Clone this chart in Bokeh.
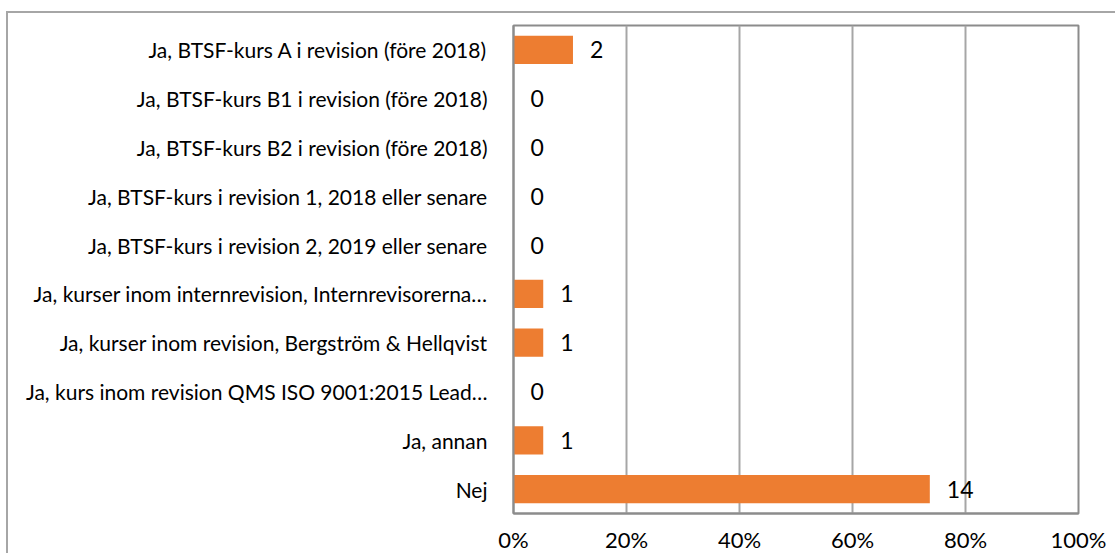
from bokeh.plotting import figure
from bokeh.models import ColumnDataSource, FactorRange, FixedTicker, CustomJSTickFormatter
from bokeh.core.properties import value
from bokeh.embed import file_html
from bokeh.resources import INLINE

categories = [
    "Ja, BTSF-kurs A i revision (före 2018)",
    "Ja, BTSF-kurs B1 i revision (före 2018)",
    "Ja, BTSF-kurs B2 i revision (före 2018)",
    "Ja, BTSF-kurs i revision 1, 2018 eller senare",
    "Ja, BTSF-kurs i revision 2, 2019 eller senare",
    "Ja, kurser inom internrevision, Internrevisorerna…",
    "Ja, kurser inom revision, Bergström & Hellqvist",
    "Ja, kurs inom revision QMS ISO 9001:2015 Lead…",
    "Ja, annan",
    "Nej",
]
counts = [2, 0, 0, 0, 0, 1, 1, 0, 1, 14]
x_ticks = [0, 20, 40, 60, 80, 100]

total = sum(counts)
pct = [c / total * 100 for c in counts]
src = ColumnDataSource(dict(cat=categories, pct=pct, lab=[str(c) for c in counts]))

FONT = "Lato"

p = figure(
    width=1109, height=542,
    y_range=FactorRange(*reversed(categories)),
    x_range=(0, 100),
    output_backend="svg", toolbar_location=None,
    min_border_left=505, min_border_right=39, min_border_top=12, min_border_bottom=40,
)
p.styles = {"margin-left": "6px", "margin-top": "11px",
            "border-top": "2px solid #a6a6a6", "border-left": "2px solid #a6a6a6"}

p.hbar(y="cat", right="pct", left=0, height=0.58, source=src,
       fill_color="#ED7D31", line_color=None)
p.text(x="pct", y="cat", text="lab", source=src, x_offset=17,
       text_baseline="middle", text_align="left",
       text_font=value(FONT), text_font_size="23px", text_color="#000000")

p.xaxis.ticker = FixedTicker(ticks=x_ticks)
p.xaxis.formatter = CustomJSTickFormatter(code="return tick + '%';")
p.xaxis.major_tick_line_color = None
p.xaxis.minor_tick_line_color = None
p.xaxis.axis_line_color = "#8c8c8c"
p.xaxis.axis_line_width = 2
p.xaxis.major_label_text_font = FONT
p.xaxis.major_label_text_font_size = "22px"
p.xaxis.major_label_text_color = "#000000"
p.xaxis.major_label_standoff = 6

p.yaxis.major_tick_line_color = None
p.yaxis.minor_tick_line_color = None
p.yaxis.axis_line_color = "#8c8c8c"
p.yaxis.axis_line_width = 2
p.yaxis.major_label_text_font = FONT
p.yaxis.major_label_text_font_size = "21px"
p.yaxis.major_label_text_color = "#000000"
p.yaxis.major_label_standoff = 20

p.ygrid.grid_line_color = None
p.xgrid.ticker = FixedTicker(ticks=[20, 40, 60, 80])
p.xgrid.grid_line_color = "#a6a6a6"
p.xgrid.grid_line_width = 2

p.outline_line_color = "#8c8c8c"
p.outline_line_width = 2
p.background_fill_color = "#ffffff"
p.border_fill_color = "#ffffff"

open("out.html", "w").write(file_html(p, INLINE))
